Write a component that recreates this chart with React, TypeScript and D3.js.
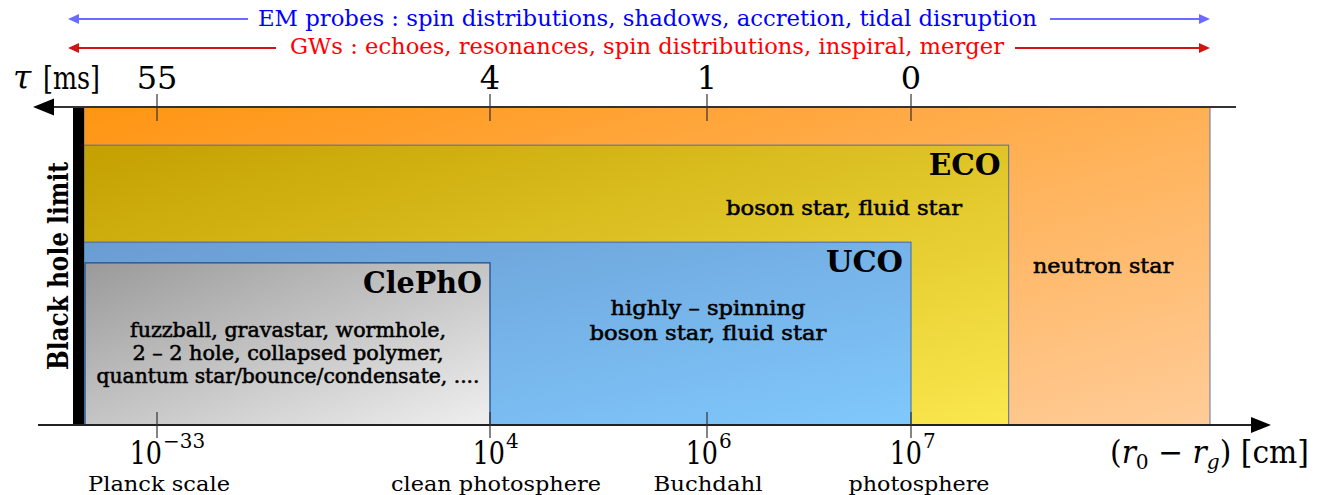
import React from 'react';
import * as d3 from 'd3';

// ---------- data ----------
const tauLabels = ["55", "4", "1", "0"];
const radiusExponents = [-33, 4, 6, 7];
const radiusNames = ["Planck scale", "clean photosphere", "Buchdahl", "photosphere"];
const classNames = ["neutron star", "ECO", "UCO", "ClePhO"];
const classRightExponent = [8.5, 7.49, 7, 4];
const classHeightFraction = [1, 0.88, 0.575, 0.51];
const classMembers = [
  ["neutron star"],
  ["boson star, fluid star"],
  ["highly – spinning", "boson star, fluid star"],
  ["fuzzball, gravastar, wormhole,", "2 – 2 hole, collapsed polymer,", "quantum star/bounce/condensate, ...."],
];
const probeLines = [
  "EM probes : spin distributions, shadows, accretion, tidal disruption",
  "GWs : echoes, resonances, spin distributions, inspiral, merger",
];
const bhLimitExponent = -41.1;

// ---------- layout / style ----------
const W = 1326, H = 495;
const topY = 107, botY = 425;
const FONT = "'DejaVu Serif', serif";

const x = d3.scaleLinear()
  .domain([bhLimitExponent, -33, 4, 6, 7, 8.5])
  .range([84, 157, 490, 707, 911, 1210]);
const y = d3.scaleLinear().domain([0, 1]).range([botY, topY]);

const gradients = [
  ["#ff9512", "#ffcc98"],
  ["#c4a000", "#fae84e"],
  ["#6a9cd2", "#80c8fc"],
  ["#9a9a9a", "#efefef"],
];
const strokes = ["#5a78a8", "#4a6ea6", "#3b6aa8", "#2d5c9c"];
const memberLayout = [
  { cx: 1103, y0: 273, gap: 0, len: [140] },
  { cx: 844, y0: 215, gap: 0, len: [236] },
  { cx: 708, y0: 315, gap: 25, len: [195, 237] },
  { cx: 288, y0: 337, gap: 23, len: [316, 311, 383] },
];
const titleLen = [0, 72, 77, 119];
const powSplit = [5, 15, 11, 11];
const nameLen = [142, 210, 109, 141];
const nameShift = [2, 6, 1, 8];

const probeStyle = [
  { y: 26, ay: 19, color: "#0000ff", arrow: "#6b6bff", x0: 258, len: 779, lEnd: 248, rStart: 1050 },
  { y: 54, ay: 48, color: "#ff0000", arrow: "#d01515", x0: 290, len: 714, lEnd: 276, rStart: 1015 },
];

const T: React.CSSProperties = { fontFamily: FONT };

export default function App() {
  return (
    <svg width={W} height={H} style={{ position: 'absolute', left: 0, top: 0, background: '#fff', fontFamily: FONT }}>
      <defs>
        {gradients.map((g, i) => (
          <linearGradient key={i} id={`g${i}`} x1="0" y1="0" x2="1" y2="1">
            <stop offset="0" stopColor={g[0]} />
            <stop offset="1" stopColor={g[1]} />
          </linearGradient>
        ))}
      </defs>

      {classNames.map((name, i) => {
        const x0 = i === 3 ? x(bhLimitExponent) + 1 : x(bhLimitExponent);
        const x1 = x(classRightExponent[i]);
        const y0 = y(classHeightFraction[i]);
        return (
          <rect key={name} x={x0} y={y0} width={x1 - x0} height={botY - y0}
            fill={`url(#g${i})`} stroke={strokes[i]} strokeWidth={i === 3 ? 1.5 : 1} />
        );
      })}

      {classNames.map((name, i) => i === 0 ? null : (
        <text key={name} style={T} x={x(classRightExponent[i]) - 8} y={y(classHeightFraction[i]) + 30}
          textAnchor="end" fontSize={30} fontWeight="bold" fill="#000"
          textLength={titleLen[i]} lengthAdjust="spacingAndGlyphs">{name}</text>
      ))}

      {classMembers.map((lines, i) => lines.map((t, j) => (
        <text key={`${i}-${j}`} style={T} x={memberLayout[i].cx} y={memberLayout[i].y0 + j * memberLayout[i].gap}
          textAnchor="middle" fontSize={20} fill="#000" stroke="#000" strokeWidth={0.55}
          textLength={memberLayout[i].len[j]} lengthAdjust="spacingAndGlyphs">{t}</text>
      )))}

      <rect x={73} y={topY} width={11} height={botY - topY} fill="#000" />
      <text style={T} transform={`translate(68, 266) rotate(-90)`} textAnchor="middle" fontSize={28}
        fontWeight="bold" textLength={208} lengthAdjust="spacingAndGlyphs">Black hole limit</text>

      <line x1={52} x2={1236} y1={topY} y2={topY} stroke="#333" strokeWidth={2} />
      <polygon points={`33,${topY} 54,${topY - 8.5} 54,${topY + 8.5}`} fill="#000" />
      <line x1={38} x2={1253} y1={botY} y2={botY} stroke="#222" strokeWidth={2} />
      <polygon points={`1271,${botY} 1251,${botY - 8} 1251,${botY + 8}`} fill="#000" />

      {radiusExponents.map((e, i) => (
        <g key={e}>
          <line x1={x(e)} x2={x(e)} y1={94} y2={121} stroke="#333" strokeWidth={1.2} />
          <line x1={x(e)} x2={x(e)} y1={412} y2={438} stroke="#333" strokeWidth={1.2} />
          <text style={T} x={x(e)} y={89} textAnchor="middle" fontSize={32}>{tauLabels[i]}</text>
          <text style={T} transform={`translate(${x(e) + powSplit[i]}, 464) scale(0.82, 1)`}
            textAnchor="end" fontSize={31}>10</text>
          <text style={T} x={x(e) + powSplit[i] + 1} y={448} textAnchor="start" fontSize={20}>
            {e < 0 ? `−${-e}` : `${e}`}</text>
          <text style={T} x={x(e) + nameShift[i]} y={491} textAnchor="middle" fontSize={21}
            textLength={nameLen[i]} lengthAdjust="spacingAndGlyphs">{radiusNames[i]}</text>
        </g>
      ))}

      <text style={T} x={13} y={89} fontSize={33} fontStyle="italic">τ</text>
      <text style={T} x={43} y={89} fontSize={32} textLength={57} lengthAdjust="spacingAndGlyphs">[ms]</text>
      <text style={T} x={1110} y={463} fontSize={31} textLength={199} lengthAdjust="spacingAndGlyphs">
        (<tspan fontStyle="italic">r</tspan><tspan fontSize={21} dy={6}>0</tspan><tspan dy={-6}> − </tspan>
        <tspan fontStyle="italic">r</tspan><tspan fontSize={21} fontStyle="italic" dy={6}>g</tspan><tspan dy={-6}>) [cm]</tspan>
      </text>

      {probeLines.map((t, i) => {
        const s = probeStyle[i];
        return (
          <g key={i}>
            <line x1={76} x2={s.lEnd} y1={s.ay} y2={s.ay} stroke={s.arrow} strokeWidth={2} />
            <polygon points={`68,${s.ay} 79,${s.ay - 5} 79,${s.ay + 5}`} fill={s.arrow} />
            <line x1={s.rStart} x2={1202} y1={s.ay} y2={s.ay} stroke={s.arrow} strokeWidth={2} />
            <polygon points={`1210,${s.ay} 1199,${s.ay - 5} 1199,${s.ay + 5}`} fill={s.arrow} />
            <text style={T} x={s.x0} y={s.y} fontSize={22} fill={s.color} textLength={s.len}
              lengthAdjust="spacingAndGlyphs">{t}</text>
          </g>
        );
      })}
    </svg>
  );
}
